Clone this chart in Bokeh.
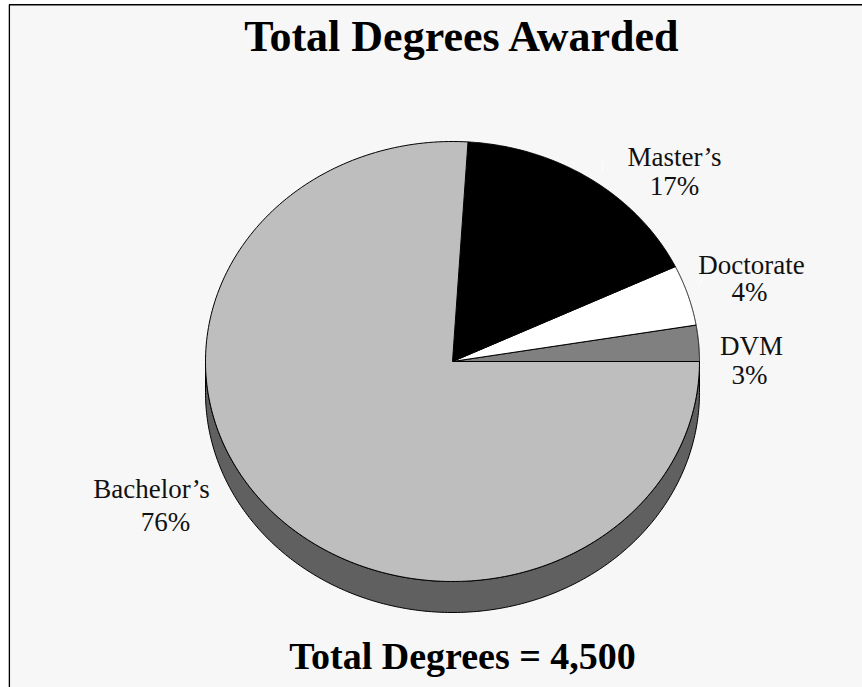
import numpy as np
from bokeh.core.properties import value
from bokeh.embed import file_html
from bokeh.models import Range1d
from bokeh.plotting import figure
from bokeh.resources import INLINE

# Data (slice order: anticlockwise from 3 o'clock)
categories = ["DVM", "Doctorate", "Master's", "Bachelor's"]
percent_labels = ["3%", "4%", "17%", "76%"]
slice_shares = [2.65, 4.45, 16.9, 76.0]
slice_colors = ["#808080", "#ffffff", "#000000", "#bebebe"]
title_text = "Total Degrees Awarded"
footer_text = "Total Degrees = 4,500"

# Layout (page pixels)
CX, CY, RX, RY, DEPTH = 452.0, 361.0, 247.0, 220.0, 31.0
BG = "#f7f7f7"
FONT = value("Liberation Serif")

p = figure(width=854, height=684, output_backend="svg", toolbar_location=None,
           x_range=Range1d(8, 862), y_range=Range1d(687, 3), min_border=0,
           background_fill_color=BG, border_fill_color=BG, outline_line_color=None)
p.axis.visible = False
p.grid.visible = False
p.styles = {"position": "absolute", "left": "8px", "top": "3px"}


def arc(t0, t1, dy=0.0, n=240):
    t = np.radians(np.linspace(t0, t1, n))
    return CX + RX * np.cos(t), CY + dy - RY * np.sin(t)


# Frame (top and left only are visible in the crop)
p.line([8.75, 8.75, 862], [687, 4.25, 4.25], line_color="#000000", line_width=1.6)

# Side of the pie
x0, y0 = arc(180, 360)
x1, y1 = arc(360, 180, DEPTH)
p.patch(np.r_[x0, x1], np.r_[y0, y1], fill_color="#606060", line_color="#000000", line_width=1)

# Top of the pie
edges = np.r_[0, np.cumsum(slice_shares)] / sum(slice_shares) * 360
for a, b, color in zip(edges[:-1], edges[1:], slice_colors):
    xa, ya = arc(a, b)
    p.patch(np.r_[CX, xa], np.r_[CY, ya], fill_color=color, line_color="#000000", line_width=1)

# Faint white leader lines
p.line([602.5, 602], [160, 171], line_color="#ffffff", line_width=1)
p.line([698, 703], [285, 277], line_color="#ffffff", line_width=1)


def label(x, y, text, size, style="normal", color="#111111"):
    p.text([x], [y], text=[text], text_font=FONT, text_font_size=f"{size}px", text_font_style=style,
           text_color=color, text_align="center", text_baseline="alphabetic",
           y_offset=-0.36 * size)


label(462, 52, title_text, 44, "bold", "#000000")
label(462, 669, footer_text, 38, "bold", "#000000")
label(674, 166, categories[2].replace("'", "\u2019"), 27)
label(674, 195, percent_labels[2], 27)
label(751, 274, categories[1], 27)
label(749, 301, percent_labels[1], 27)
label(751, 355, categories[0], 27)
label(749, 384, percent_labels[0], 27)
label(151, 498, categories[3].replace("'", "\u2019"), 27)
label(165, 531, percent_labels[3], 27)

open("out.html", "w").write(file_html(p, INLINE))
